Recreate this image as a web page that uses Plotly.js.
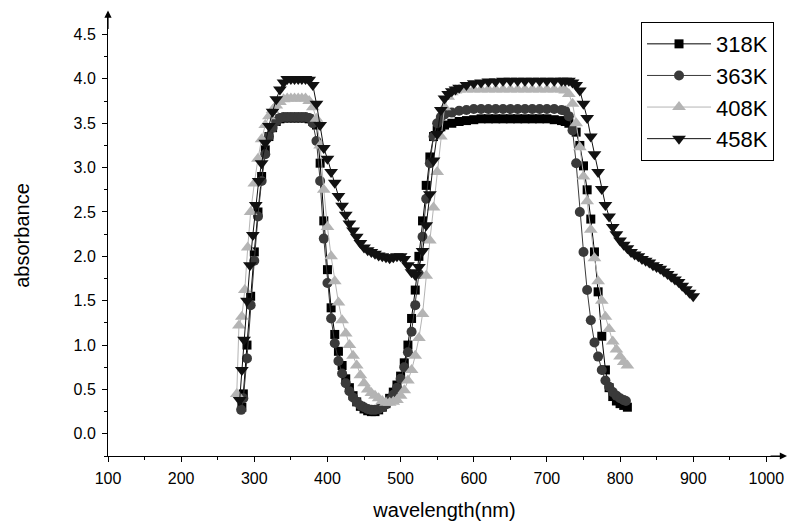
<!DOCTYPE html>
<html>
<head>
<meta charset="utf-8">
<script src="https://cdn.plot.ly/plotly-3.0.1.min.js"></script>
<style>html,body{margin:0;padding:0;background:#fff;}#chart{width:788px;height:524px;}</style>
</head>
<body>
<div id="chart"></div>
<script>
// ---- data ----
const seriesNames = ["318K", "363K", "408K", "458K"];

const wl318 = [283,285,290,295,300,305,310,315,320,325,330,335,340,345,350,355,360,365,370,375,380,385,390,395,400,405,410,415,420,425,430,435,440,445,450,455,460,465,470,475,480,485,490,495,500,505,510,515,520,525,530,535,540,545,550,555,560,570,580,590,600,610,620,630,640,650,660,670,680,690,700,710,720,725,730,735,740,745,750,755,760,765,770,775,780,785,790,795,800,805,810];
const abs318 = [0.30,0.45,1.00,1.55,2.05,2.50,2.90,3.20,3.35,3.45,3.52,3.55,3.56,3.56,3.56,3.56,3.56,3.56,3.56,3.55,3.52,3.48,3.05,2.40,1.85,1.42,1.12,0.93,0.77,0.62,0.52,0.43,0.36,0.31,0.28,0.26,0.25,0.25,0.27,0.30,0.34,0.40,0.47,0.55,0.65,0.80,1.00,1.30,1.62,2.00,2.40,2.80,3.12,3.35,3.42,3.46,3.48,3.50,3.52,3.53,3.54,3.55,3.55,3.55,3.55,3.55,3.55,3.55,3.55,3.55,3.55,3.54,3.53,3.52,3.50,3.46,3.40,3.25,3.02,2.75,2.42,2.05,1.60,1.10,0.72,0.52,0.42,0.37,0.34,0.32,0.30];

const wl363 = [282,285,290,295,300,305,310,315,320,325,330,335,340,345,350,355,360,365,370,375,380,385,390,395,400,405,410,415,420,425,430,435,440,445,450,455,460,465,470,475,480,485,490,495,500,505,510,515,520,525,530,535,540,545,550,555,560,570,580,590,600,610,620,630,640,650,660,670,680,690,700,710,720,725,730,735,740,745,750,755,760,765,770,775,780,785,790,795,800,805,808];
const abs363 = [0.27,0.40,0.85,1.45,1.95,2.45,2.85,3.15,3.35,3.45,3.52,3.56,3.57,3.57,3.57,3.57,3.57,3.57,3.57,3.56,3.50,3.30,2.85,2.20,1.70,1.30,1.02,0.82,0.68,0.57,0.48,0.41,0.36,0.32,0.30,0.28,0.27,0.27,0.28,0.30,0.33,0.38,0.44,0.52,0.62,0.75,0.92,1.15,1.45,1.80,2.22,2.65,3.05,3.35,3.50,3.57,3.60,3.62,3.64,3.65,3.66,3.66,3.66,3.66,3.66,3.66,3.66,3.66,3.66,3.66,3.66,3.66,3.65,3.64,3.58,3.42,3.05,2.50,2.05,1.62,1.28,1.03,0.87,0.72,0.60,0.53,0.47,0.43,0.40,0.38,0.37];

const wl408 = [276,279,283,287,291,295,300,305,310,315,320,325,330,335,340,345,350,355,360,365,370,375,380,385,390,395,400,405,410,415,420,425,430,435,440,445,450,455,460,465,470,475,480,485,490,495,500,505,510,515,520,525,530,535,540,545,550,555,560,565,570,575,580,590,600,610,620,630,640,650,660,670,680,690,700,710,720,725,730,735,740,745,750,755,760,765,770,775,780,785,790,795,800,805,810];
const abs408 = [0.45,1.22,1.32,1.62,2.10,2.50,2.82,3.10,3.32,3.48,3.58,3.65,3.70,3.74,3.77,3.78,3.78,3.78,3.78,3.78,3.78,3.75,3.68,3.55,3.25,2.75,2.33,2.00,1.72,1.48,1.28,1.13,1.00,0.88,0.77,0.66,0.57,0.50,0.46,0.43,0.40,0.37,0.35,0.35,0.36,0.38,0.43,0.49,0.60,0.72,0.88,1.08,1.35,1.78,2.18,2.55,2.95,3.35,3.68,3.80,3.85,3.87,3.88,3.88,3.88,3.88,3.88,3.88,3.88,3.88,3.88,3.88,3.88,3.88,3.88,3.88,3.88,3.87,3.83,3.72,3.50,3.23,2.90,2.62,2.30,1.98,1.72,1.50,1.32,1.18,1.04,0.95,0.87,0.81,0.77];

const wl458 = [280,283,286,290,294,298,302,306,310,315,320,325,330,335,340,345,350,355,360,365,370,375,380,385,390,395,400,405,410,415,420,425,430,435,440,445,450,455,460,465,470,475,480,485,490,495,500,505,510,515,520,525,530,535,540,545,550,555,560,565,570,575,580,590,600,610,620,630,640,650,660,670,680,690,700,710,720,725,730,735,740,745,750,755,760,765,770,775,780,785,790,795,800,805,810,815,820,825,830,835,840,845,850,855,860,865,870,875,880,885,890,895,900];
const abs458 = [0.38,0.72,1.06,1.50,1.90,2.24,2.58,2.85,3.05,3.28,3.47,3.63,3.77,3.88,3.96,4.00,4.00,4.00,4.00,4.00,4.00,3.99,3.93,3.72,3.48,3.22,3.10,2.95,2.83,2.68,2.57,2.47,2.37,2.29,2.22,2.15,2.10,2.07,2.05,2.03,2.01,2.00,1.99,1.98,1.99,2.00,2.00,1.97,1.90,1.82,1.79,1.88,2.06,2.35,2.70,3.08,3.38,3.65,3.78,3.83,3.86,3.88,3.90,3.93,3.95,3.96,3.97,3.97,3.98,3.98,3.98,3.98,3.98,3.98,3.98,3.98,3.98,3.98,3.98,3.96,3.93,3.87,3.72,3.56,3.35,3.15,2.95,2.76,2.58,2.45,2.33,2.25,2.18,2.13,2.09,2.05,2.02,2.00,1.97,1.95,1.93,1.90,1.88,1.86,1.83,1.80,1.77,1.74,1.71,1.67,1.63,1.59,1.55];

const xTickVals = [100,200,300,400,500,600,700,800,900,1000];
const yTickVals = [0.0,0.5,1.0,1.5,2.0,2.5,3.0,3.5,4.0,4.5];

// ---- traces ----
const styles = [
  {color: "#000000", symbol: "square", size: 9},
  {color: "#3a3a3a", symbol: "circle", size: 10},
  {color: "#b4b4b4", symbol: "triangle-up", size: 12},
  {color: "#111111", symbol: "triangle-down", size: 12}
];
const xs = [wl318, wl363, wl408, wl458];
const ys = [abs318, abs363, abs408, abs458];

const traces = seriesNames.map((n, i) => ({
  type: "scatter",
  mode: "lines+markers",
  name: n,
  x: xs[i],
  y: ys[i],
  legendgroup: n,
  line: {color: styles[i].color, width: 1},
  marker: {color: styles[i].color, symbol: styles[i].symbol, size: styles[i].size, line: {width: 0}}
}));

const font = {family: "Arial, 'Liberation Sans', sans-serif", color: "#000"};

const layout = {
  width: 788,
  height: 524,
  margin: {l: 108, r: 7, t: 15, b: 68},
  paper_bgcolor: "#fff",
  plot_bgcolor: "#fff",
  showlegend: true,
  font: Object.assign({size: 16}, font),
  xaxis: {
    range: [100, 1020],
    tickvals: xTickVals,
    ticktext: xTickVals.map(String),
    ticks: "outside",
    ticklen: 5,
    tickwidth: 1,
    tickcolor: "#000",
    ticklabelstandoff: 3,
    minor: {dtick: 50, tick0: 100, ticks: "outside", ticklen: 3, tickcolor: "#000"},
    showline: true,
    linecolor: "#000",
    linewidth: 1,
    showgrid: false,
    zeroline: false,
    tickfont: Object.assign({size: 16}, font),
    title: {text: "wavelength(nm)", font: Object.assign({size: 20}, font), standoff: 16}
  },
  yaxis: {
    range: [-0.25, 4.72],
    tickvals: yTickVals,
    ticktext: yTickVals.map(v => v.toFixed(1)),
    ticks: "outside",
    ticklen: 5,
    tickwidth: 1,
    tickcolor: "#000",
    ticklabelstandoff: 3,
    minor: {dtick: 0.25, tick0: 0, ticks: "outside", ticklen: 3, tickcolor: "#000"},
    showline: true,
    linecolor: "#000",
    linewidth: 1,
    showgrid: false,
    zeroline: false,
    tickfont: Object.assign({size: 16}, font),
    title: {text: "absorbance", font: Object.assign({size: 20}, font), standoff: 38}
  },
  legend: {
    x: 0.792, y: 0.984, xanchor: "left", yanchor: "top",
    bordercolor: "#000", borderwidth: 1, bgcolor: "#fff",
    font: Object.assign({size: 22}, font),
    itemwidth: 64,
    tracegroupgap: 5,
    traceorder: "normal"
  },
  annotations: [
    {xref: "paper", yref: "paper", x: 1.012, y: 0, ax: -20, ay: 0, axref: "pixel", ayref: "pixel",
     showarrow: true, arrowhead: 2, arrowsize: 1.2, arrowwidth: 1.2, arrowcolor: "#000", text: ""},
    {xref: "paper", yref: "paper", x: 0, y: 1.01, ax: 0, ay: 20, axref: "pixel", ayref: "pixel",
     showarrow: true, arrowhead: 2, arrowsize: 1.2, arrowwidth: 1.2, arrowcolor: "#000", text: ""}
  ]
};

Plotly.newPlot("chart", traces, layout, {displayModeBar: false, staticPlot: true});
</script>
</body>
</html>
